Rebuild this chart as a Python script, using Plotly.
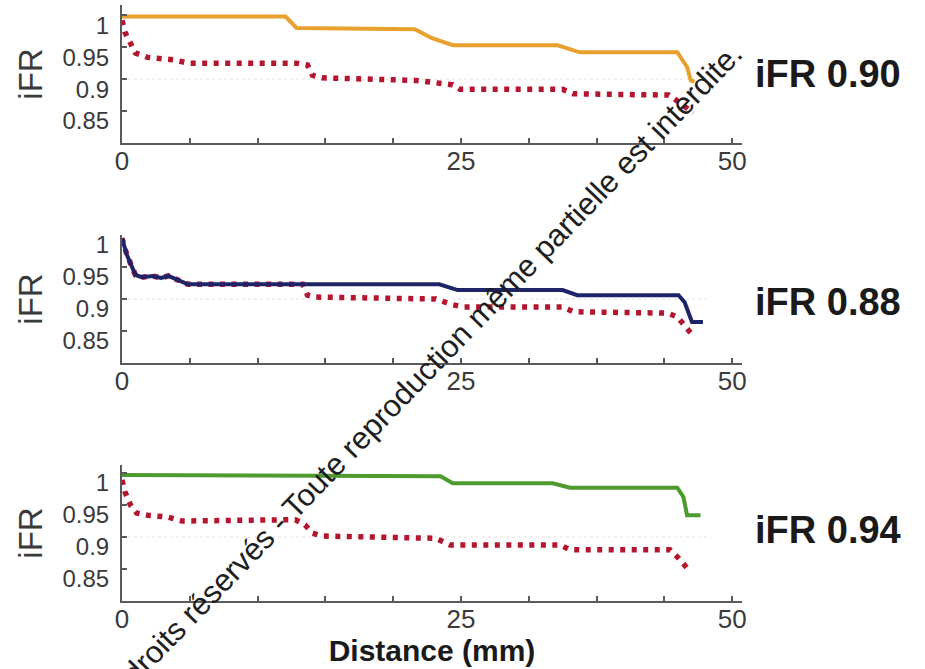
import plotly.graph_objects as go

# ---------------- data ----------------
# Panel 1 : iFR 0.90 (orange) vs reference (red dotted)
p1_dist = [0, 13.4, 14.3, 24.0, 25.4, 27.1, 35.7, 37.5, 45.5, 46.3, 46.6, 46.9]
p1_ifr = [0.998, 0.998, 0.980, 0.978, 0.964, 0.953, 0.953, 0.942, 0.942, 0.919, 0.898, 0.896]

ref1_dist = [0, 0.25, 0.7, 1.1, 2.1, 4.3, 5.4, 14.3, 15.2, 15.6, 16.4, 24.0, 25.4,
             27.1, 27.7, 36.1, 37.0, 44.1, 44.8, 45.7, 46.8]
ref1_ifr = [0.992, 0.973, 0.956, 0.941, 0.934, 0.930, 0.925, 0.925, 0.922, 0.906, 0.902,
            0.898, 0.895, 0.891, 0.884, 0.884, 0.877, 0.877, 0.875, 0.863, 0.847]

# Panel 2 : iFR 0.88 (navy) vs reference (red dotted)
p2_dist = [0, 0.4, 1.1, 1.6, 2.5, 3.2, 3.8, 4.9, 5.4, 26.0, 27.5, 36.1, 37.3, 45.6,
           46.1, 46.7, 47.6]
p2_ifr = [0.995, 0.969, 0.9375, 0.934, 0.936, 0.933, 0.936, 0.927, 0.923, 0.923, 0.914,
          0.914, 0.906, 0.906, 0.895, 0.864, 0.864]

ref2_dist = [0, 0.4, 1.1, 1.6, 2.5, 3.2, 3.8, 4.9, 5.4, 14.8, 15.2, 15.8, 25.7, 27.1,
             28.0, 36.1, 37.0, 44.7, 45.5, 46.6]
ref2_ifr = [0.995, 0.969, 0.9375, 0.934, 0.936, 0.933, 0.936, 0.927, 0.923, 0.923, 0.906,
            0.903, 0.900, 0.891, 0.8875, 0.8875, 0.880, 0.878, 0.872, 0.847]

# Panel 3 : iFR 0.94 (green) vs reference (red dotted)
p3_dist = [0, 26.1, 27.1, 35.3, 36.7, 45.5, 46.0, 46.3, 47.4]
p3_ifr = [0.997, 0.995, 0.984, 0.984, 0.977, 0.977, 0.9625, 0.934, 0.934]

ref3_dist = [0, 0.25, 0.7, 1.2, 2.1, 3.8, 4.9, 13.6, 14.2, 15.0, 15.6, 16.4, 25.7, 26.9,
             35.9, 36.7, 44.9, 45.5, 46.3]
ref3_ifr = [0.989, 0.970, 0.950, 0.9375, 0.934, 0.931, 0.925, 0.925, 0.927, 0.919, 0.906,
            0.9015, 0.898, 0.8875, 0.8875, 0.880, 0.880, 0.869, 0.8515]

panel_labels = ["iFR 0.90", "iFR 0.88", "iFR 0.94"]
panel_colors = ["#E8A02E", "#1F2468", "#4E9A2E"]
ref_color = "#B3162E"

x_tick_vals = [0, 5.56, 11.11, 16.67, 22.22, 27.78, 33.33, 38.89, 44.44, 50]
x_tick_text = ["0", "", "", "", "", "25", "", "", "", "50"]
y_tick_vals = [0.85, 0.9, 0.95, 1.0]
y_tick_text = ["0.85", "0.9", "0.95", "1"]
grid_value = 0.9

watermark = "Tous droits réservés - Toute reproduction même partielle est interdite."

# ---------------- figure ----------------
W, H = 925, 669
FONT = "Liberation Sans, Arial, sans-serif"

# (curve x, curve y, ref x, ref y, (top px, bottom px), range top, label centre px)
panels = [
    (p1_dist, p1_ifr, ref1_dist, ref1_ifr, (5, 143), 1.016, 74),
    (p2_dist, p2_ifr, ref2_dist, ref2_ifr, (235, 363), 1.0, 302),
    (p3_dist, p3_ifr, ref3_dist, ref3_ifr, (465, 601), 1.0125, 530),
]

fig = go.Figure()
layout = dict(
    width=W, height=H, autosize=False,
    margin=dict(l=0, r=0, t=0, b=0),
    paper_bgcolor="white", plot_bgcolor="white",
    showlegend=False,
    font=dict(family=FONT, color="#333"),
)
shapes = []
annotations = []

for i, (dx, dy, rx, ry, (top, bot), ytop, lab_y) in enumerate(panels):
    n = "" if i == 0 else str(i + 1)
    xa, ya = "x" + n, "y" + n
    fig.add_trace(go.Scatter(x=rx, y=ry, mode="lines", xaxis=xa, yaxis=ya,
                             line=dict(color=ref_color, width=5.5, dash="5px,6.5px")))
    fig.add_trace(go.Scatter(x=dx, y=dy, mode="lines", xaxis=xa, yaxis=ya,
                             line=dict(color=panel_colors[i], width=4)))
    layout["xaxis" + n] = dict(
        domain=[122 / W, 742 / W], range=[0, 50.8], anchor=ya,
        showline=True, linecolor="#5a5a5a", linewidth=2,
        ticks="inside", ticklen=5, tickwidth=1.5, tickcolor="#5a5a5a",
        tickvals=x_tick_vals, ticktext=x_tick_text, ticklabelstandoff=-6,
        tickfont=dict(size=26, color="#3a3a3a", family=FONT),
        showgrid=False, zeroline=False, automargin=False,
    )
    layout["yaxis" + n] = dict(
        domain=[1 - bot / H, 1 - top / H], range=[0.80, ytop], anchor=xa,
        showline=True, linecolor="#5a5a5a", linewidth=2,
        ticks="inside", ticklen=5, tickwidth=1.5, tickcolor="#5a5a5a",
        tickvals=y_tick_vals, ticktext=y_tick_text, ticklabelshift=10,
        ticklabelstandoff=6,
        tickfont=dict(size=24, color="#3a3a3a", family=FONT),
        title=dict(text="iFR", font=dict(size=33, color="#3a3a3a", family=FONT), standoff=10),
        showgrid=False, zeroline=False, automargin=False,
    )
    shapes.append(dict(type="line", xref=xa + " domain", yref=ya, x0=0, x1=0.95,
                       y0=grid_value, y1=grid_value,
                       line=dict(color="#e2e2e2", width=1, dash="dot"), layer="below"))
    annotations.append(dict(text="<b>%s</b>" % panel_labels[i], xref="paper", yref="paper",
                            x=753 / W, y=1 - lab_y / H,
                            xanchor="left", yanchor="middle", showarrow=False,
                            font=dict(size=38, color="#1a1a1a", family=FONT)))

layout["xaxis3"]["title"] = dict(text="<b>Distance (mm)</b>",
                                 font=dict(size=30, color="#1a1a1a", family=FONT), standoff=0)

annotations.append(dict(text=watermark, xref="paper", yref="paper",
                        x=406 / W, y=1 - 390 / H, xanchor="center", yanchor="middle",
                        textangle=-46, showarrow=False,
                        font=dict(size=31, color="#1e1e1e", family=FONT)))

layout["shapes"] = shapes
layout["annotations"] = annotations
fig.update_layout(**layout)

fig.write_html("out.html")
